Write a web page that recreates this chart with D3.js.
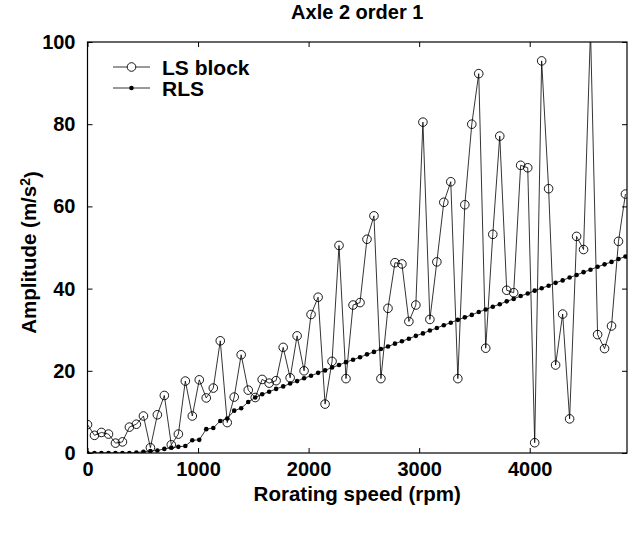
<!DOCTYPE html>
<meta charset="utf-8">
<style>
    body { margin: 0; background: #fff; }
    text { font-family: "Liberation Sans", Arial, sans-serif; font-weight: bold; fill: #000; }
    .ls { fill: none; stroke: #000; stroke-width: 0.8px; }
    .rls { fill: none; stroke: #000; stroke-width: 0.8px; }
</style>
<svg width="638" height="538"></svg>
<script src="https://d3js.org/d3.v7.min.js"></script>
<script>

    // rotating speed (rpm) of each estimate
    var speeds = [0, 63, 126, 190, 253, 316, 379, 442, 506, 569,
        632, 695, 758, 822, 885, 948, 1011, 1074, 1138, 1201,
        1264, 1327, 1390, 1454, 1517, 1580, 1643, 1706, 1770, 1833,
        1896, 1959, 2022, 2086, 2149, 2212, 2275, 2338, 2402, 2465,
        2528, 2591, 2654, 2718, 2781, 2844, 2907, 2970, 3034, 3097,
        3160, 3223, 3286, 3350, 3413, 3476, 3539, 3602, 3666, 3729,
        3792, 3855, 3918, 3982, 4045, 4108, 4171, 4234, 4298, 4361,
        4424, 4487, 4550, 4614, 4677, 4740, 4803, 4866];

    var lsBlock = [6.9, 4.3, 5.0, 4.6, 2.4, 2.7, 6.3, 7.0, 9.0, 1.3,
        9.3, 14.0, 2.0, 4.6, 17.5, 9.0, 17.8, 13.4, 15.8, 27.3,
        7.4, 13.6, 23.9, 15.3, 13.5, 17.9, 17.0, 17.6, 25.7, 18.3,
        28.5, 20.0, 33.7, 37.9, 11.9, 22.3, 50.5, 18.1, 36.0, 36.6,
        52.0, 57.7, 18.1, 35.2, 46.3, 46.0, 32.0, 36.0, 80.5, 32.5,
        46.5, 61.0, 66.0, 18.1, 60.4, 80.0, 92.3, 25.5, 53.2, 77.1,
        39.6, 39.0, 70.0, 69.4, 2.5, 95.4, 64.3, 21.4, 33.8, 8.3,
        52.7, 49.5, 103, 28.8, 25.4, 30.9, 51.5, 63.0];

    var rls = [0, 0, 0, 0, 0, 0, 0, 0.1, 0.3, 0.5,
        0.6, 1.0, 1.3, 1.5, 1.7, 3.1, 3.2, 5.8, 6.1, 7.8,
        8.4, 10.3, 10.9, 12.4, 13.5, 14.3, 14.9, 15.6, 16.2, 16.9,
        17.5, 18.2, 18.8, 19.5, 20.1, 20.8, 21.4, 22.1, 22.7, 23.3,
        24.0, 24.6, 25.3, 25.9, 26.6, 27.2, 27.8, 28.5, 29.1, 29.8,
        30.4, 31.1, 31.7, 32.4, 33.0, 33.6, 34.3, 34.9, 35.6, 36.2,
        36.9, 37.5, 38.2, 38.8, 39.5, 40.1, 40.7, 41.4, 42.0, 42.7,
        43.3, 44.0, 44.6, 45.3, 45.9, 46.5, 47.2, 47.8];

    var xTicks = [0, 1000, 2000, 3000, 4000];
    var yTicks = [0, 20, 40, 60, 80, 100];
    var seriesNames = ["LS block", "RLS"];

    var svg = d3.select("svg");
    var mLeft = 87.5, mRight = 627, mTop = 42, mBottom = 453;

    var x = d3.scaleLinear().domain([0, 4880]).range([mLeft, mRight]);
    var y = d3.scaleLinear().domain([0, 100]).range([mBottom, mTop]);

    svg.append("clipPath").attr("id", "clip")
        .append("rect")
        .attr("x", mLeft).attr("y", mTop)
        .attr("width", mRight - mLeft).attr("height", mBottom - mTop);

    // axes with inward ticks, box all round
    svg.append("g")
        .attr("transform", "translate(0," + mBottom + ")")
        .call(d3.axisBottom(x).tickValues(xTicks).tickFormat(d3.format("d"))
            .tickSizeInner(-5).tickSizeOuter(0).tickPadding(9))
        .call(function(g) { g.select(".domain").remove(); g.selectAll("text").style("font-size", "20px"); });
    svg.append("g")
        .attr("transform", "translate(0," + mTop + ")")
        .call(d3.axisTop(x).tickValues(xTicks).tickSizeInner(-5).tickSizeOuter(0).tickFormat(""))
        .call(function(g) { g.select(".domain").remove(); });
    svg.append("g")
        .attr("transform", "translate(" + mLeft + ",0)")
        .call(d3.axisLeft(y).tickValues(yTicks).tickSizeInner(-5).tickSizeOuter(0).tickPadding(12))
        .call(function(g) { g.select(".domain").remove(); g.selectAll("text").style("font-size", "20px"); });
    svg.append("g")
        .attr("transform", "translate(" + mRight + ",0)")
        .call(d3.axisRight(y).tickValues(yTicks).tickSizeInner(-5).tickSizeOuter(0).tickFormat(""))
        .call(function(g) { g.select(".domain").remove(); });
    svg.selectAll(".tick line").attr("stroke", "#000");

    svg.append("rect")
        .attr("x", mLeft).attr("y", mTop)
        .attr("width", mRight - mLeft).attr("height", mBottom - mTop)
        .attr("fill", "none").attr("stroke", "#000").attr("stroke-width", 1.2);

    var plot = svg.append("g").attr("clip-path", "url(#clip)");

    var lsData = speeds.map(function(s, i) { return [s, lsBlock[i]]; });
    var rlsData = speeds.map(function(s, i) { return [s, rls[i]]; });
    var line = d3.line().x(function(d) { return x(d[0]); }).y(function(d) { return y(d[1]); });

    plot.append("path").datum(rlsData).attr("class", "rls").attr("d", line);
    plot.append("path").datum(lsData).attr("class", "ls").attr("d", line);

    plot.selectAll(".rlsdot").data(rlsData).enter().append("circle")
        .attr("cx", function(d) { return x(d[0]); })
        .attr("cy", function(d) { return y(d[1]); })
        .attr("r", 2.3).attr("fill", "#000");

    plot.selectAll(".lsdot").data(lsData).enter().append("circle")
        .attr("cx", function(d) { return x(d[0]); })
        .attr("cy", function(d) { return y(d[1]); })
        .attr("r", 4.3).attr("fill", "none").attr("stroke", "#000").attr("stroke-width", 0.9);

    // legend
    var legend = svg.append("g");
    seriesNames.forEach(function(name, i) {
        var ly = 67 + i * 21;
        legend.append("line").attr("x1", 113).attr("x2", 150).attr("y1", ly).attr("y2", ly)
            .attr("stroke", "#000").attr("stroke-width", 0.8);
        if (i === 0) {
            legend.append("circle").attr("cx", 131.5).attr("cy", ly).attr("r", 4.3)
                .attr("fill", "#fff").attr("stroke", "#000").attr("stroke-width", 0.9);
        } else {
            legend.append("circle").attr("cx", 131.5).attr("cy", ly).attr("r", 2.3).attr("fill", "#000");
        }
        legend.append("text").attr("x", 162).attr("y", ly).attr("dy", "0.36em")
            .style("font-size", "21px").text(name);
    });

    svg.append("text").attr("x", (mLeft + mRight) / 2).attr("y", 19)
        .attr("text-anchor", "middle").style("font-size", "20px").text("Axle 2 order 1");

    svg.append("text").attr("x", (mLeft + mRight) / 2).attr("y", 501)
        .attr("text-anchor", "middle").style("font-size", "20.5px").text("Rorating speed (rpm)");

    var ylab = svg.append("text")
        .attr("transform", "translate(36," + ((mTop + mBottom) / 2 + 5) + ") rotate(-90)")
        .attr("text-anchor", "middle").style("font-size", "20.5px");
    ylab.append("tspan").text("Amplitude (m/s");
    ylab.append("tspan").attr("dy", "-0.45em").style("font-size", "14px").text("2");
    ylab.append("tspan").attr("dy", "0.45em").text(")");

</script>
